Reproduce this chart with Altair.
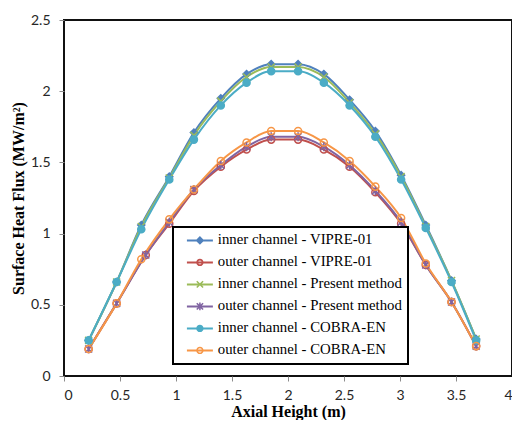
import math
import altair as alt
import pandas as pd

# ---------------- data ----------------
series_names = [
    "inner channel - VIPRE-01",
    "outer channel - VIPRE-01",
    "inner channel - Present method",
    "outer channel - Present method",
    "inner channel - COBRA-EN",
    "outer channel - COBRA-EN",
]
series_colors = ["#4F81BD", "#C0504D", "#9BBB59", "#8064A2", "#4BACC6", "#F79646"]

x_axial = [0.22, 0.47, 0.69, 0.94, 1.16, 1.40, 1.63, 1.85, 2.09, 2.32, 2.55, 2.78, 3.01, 3.23, 3.46, 3.68]
x_axial_outer_vp = [0.22, 0.47, 0.73, 0.94, 1.16, 1.40, 1.63, 1.85, 2.09, 2.32, 2.55, 2.78, 3.01, 3.23, 3.46, 3.68]

inner_vipre = [0.25, 0.66, 1.06, 1.40, 1.71, 1.95, 2.12, 2.19, 2.19, 2.12, 1.94, 1.72, 1.41, 1.06, 0.67, 0.26]
outer_vipre = [0.19, 0.51, 0.85, 1.07, 1.30, 1.47, 1.59, 1.66, 1.66, 1.59, 1.47, 1.29, 1.07, 0.78, 0.52, 0.21]
inner_present = [0.25, 0.66, 1.05, 1.39, 1.69, 1.93, 2.10, 2.17, 2.17, 2.10, 1.92, 1.70, 1.40, 1.05, 0.67, 0.26]
outer_present = [0.19, 0.51, 0.85, 1.08, 1.31, 1.48, 1.61, 1.68, 1.68, 1.61, 1.48, 1.30, 1.08, 0.78, 0.52, 0.21]
inner_cobra = [0.25, 0.66, 1.03, 1.38, 1.66, 1.90, 2.06, 2.14, 2.14, 2.06, 1.90, 1.68, 1.38, 1.04, 0.66, 0.25]
outer_cobra = [0.19, 0.51, 0.82, 1.10, 1.31, 1.51, 1.64, 1.72, 1.72, 1.64, 1.51, 1.33, 1.11, 0.79, 0.52, 0.21]

x_ticks = [0, 0.5, 1, 1.5, 2, 2.5, 3, 3.5, 4]
y_ticks = [0, 0.5, 1, 1.5, 2, 2.5]

series_values = [inner_vipre, outer_vipre, inner_present, outer_present, inner_cobra, outer_cobra]
series_x = [x_axial, x_axial_outer_vp, x_axial, x_axial_outer_vp, x_axial, x_axial]

rows = []
for k, (name, xs, ys) in enumerate(zip(series_names, series_x, series_values)):
    for xv, yv in zip(xs, ys):
        rows.append({"series": name, "k": k, "x": xv, "y": yv})
df = pd.DataFrame(rows)

# ---------------- marker shapes ----------------
def seg(x1, y1, x2, y2, t):
    dx, dy = x2 - x1, y2 - y1
    L = math.hypot(dx, dy)
    nx, ny = -dy / L * t, dx / L * t
    pts = [(x1 + nx, y1 + ny), (x2 + nx, y2 + ny), (x2 - nx, y2 - ny), (x1 - nx, y1 - ny)]
    return "M" + "L".join(f"{a:.3f},{b:.3f}" for a, b in pts) + "Z"

def circ(cx, r, sweep):
    return (f"M{cx - r:.3f},0A{r},{r} 0 1,{sweep} {cx + r:.3f},0"
            f"A{r},{r} 0 1,{sweep} {cx - r:.3f},0Z")

def diamond(cx, r):
    return f"M{cx:.3f},{-r}L{cx - r:.3f},0L{cx:.3f},{r}L{cx + r:.3f},0Z"

cx = 3.86   # legend symbol shift (units of 3.5px)
half = 3.71
lt = 0.29
line_path = seg(cx - half, 0, cx + half, 0, lt)
xs_path = seg(cx - 0.9, -0.9, cx + 0.9, 0.9, 0.22) + seg(cx - 0.9, 0.9, cx + 0.9, -0.9, 0.22)
ast_path = xs_path + seg(cx, -1.1, cx, 1.1, 0.22)

legend_shapes = [
    line_path + diamond(cx, 1.25),
    line_path + circ(cx, 1.05, 0) + circ(cx, 0.55, 1),
    line_path + xs_path,
    line_path + ast_path,
    line_path + circ(cx, 1.05, 0),
    line_path + circ(cx, 1.05, 0) + circ(cx, 0.6, 1),
]

plot_shapes = [
    "diamond",
    "circle",
    "M-1,-1L1,1M-1,1L1,-1",
    "M-1,-1L1,1M-1,1L1,-1M0,-1.25L0,1.25",
    "circle",
    "circle",
]
plot_fills = ["#4F81BD", "transparent", "transparent", "transparent", "#4BACC6", "transparent"]

xenc = alt.X("x:Q", scale=alt.Scale(domain=[0, 4], nice=False),
             axis=alt.Axis(values=x_ticks, format="~g", title="Axial Height (m)",
                           titleY=35, titleBaseline="middle", labelPadding=7))
yenc = alt.Y("y:Q", scale=alt.Scale(domain=[0, 2.5], nice=False),
             axis=alt.Axis(values=y_ticks, format="~g", title="Surface Heat Flux (MW/m\u00b2)",
                           titleX=-45.5, titleBaseline="middle", labelPadding=9))

col_scale = alt.Scale(domain=series_names, range=series_colors)

lines = alt.Chart(df).mark_line(interpolate="monotone", strokeWidth=2).encode(
    x=xenc, y=yenc,
    color=alt.Color("series:N", scale=col_scale, legend=None),
    order=alt.Order("x:Q"),
)

points = alt.Chart(df).mark_point(filled=False, strokeWidth=1.5, size=50, opacity=1).encode(
    x=xenc, y=yenc,
    color=alt.Color("series:N", scale=col_scale, legend=None),
    shape=alt.Shape("series:N", scale=alt.Scale(domain=series_names, range=plot_shapes), legend=None),
    fill=alt.Fill("series:N", scale=alt.Scale(domain=series_names, range=plot_fills), legend=None),
)

leg = alt.Legend(
    orient="none", legendX=109, legendY=207, title=None,
    strokeColor="black", fillColor="white", padding=6,
    labelFont="Liberation Serif", labelFontSize=14.8, labelColor="black",
    labelLimit=400, labelOffset=24, rowPadding=6,
    symbolStrokeWidth=0, symbolSize=49,
)

legend_layer = alt.Chart(df).transform_filter("false").mark_point(filled=True, size=49, opacity=1).encode(
    x=xenc, y=yenc,
    color=alt.Color("series:N", scale=alt.Scale(domain=series_names, range=series_colors), legend=leg),
    shape=alt.Shape("series:N", scale=alt.Scale(domain=series_names, range=legend_shapes), legend=leg),
)

chart = alt.layer(lines, points, legend_layer).resolve_scale(
    color="independent", shape="independent"
).properties(
    width=448, height=356,
    autosize=alt.AutoSizeParams(type="none"),
    padding={"left": 56, "top": 12, "right": 0, "bottom": 44},
).configure_view(
    stroke="#111111", strokeWidth=2
).configure_axis(
    grid=False, domain=False,
    ticks=True, tickSize=5, tickColor="#8c8c8c", tickWidth=1,
    labelFont="Lato", labelFontSize=14, labelColor="#262626",
    titleFont="Liberation Serif", titleFontSize=16, titleFontWeight="bold", titleColor="black",
).configure_legend(
    strokeWidth=2
)

chart.save("out.html", embed_options={"renderer": "svg", "actions": False})
